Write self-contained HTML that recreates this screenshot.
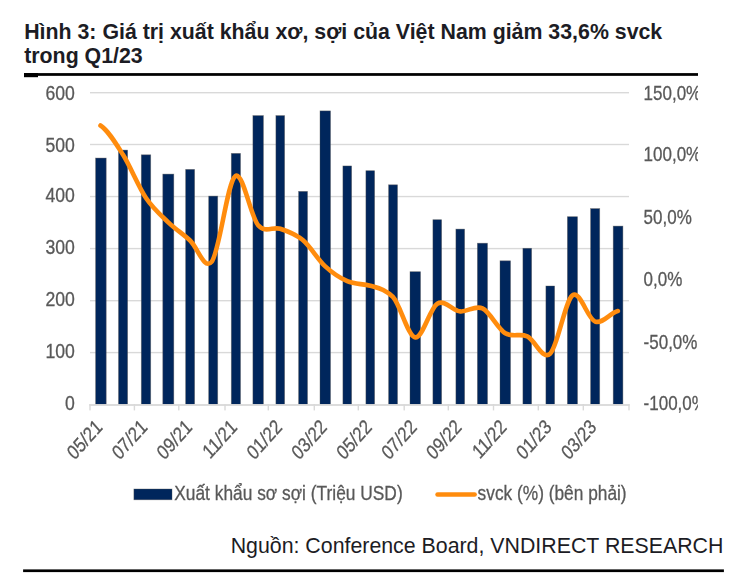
<!DOCTYPE html>
<html><head><meta charset="utf-8"><title>Hình 3</title>
<style>
html,body{margin:0;padding:0;background:#fff;}
body{width:743px;height:573px;overflow:hidden;position:relative;font-family:"Liberation Sans",sans-serif;}
svg{position:absolute;left:0;top:0;}
text{font-family:"Liberation Sans",sans-serif;}
.t{position:absolute;white-space:nowrap;color:#1c1c24;font-size:21.33px;}
</style></head><body>
<div class="t" style="left:24.2px;top:20px;font-weight:bold;line-height:24px;">Hình 3: Giá trị xuất khẩu xơ, sợi của Việt Nam giảm 33,6% svck</div>
<div class="t" style="left:24.2px;top:44px;font-weight:bold;line-height:24px;">trong Q1/23</div>
<div class="t" style="right:19.6px;top:534px;line-height:24px;">Nguồn: Conference Board, VNDIRECT RESEARCH</div>
<svg width="743" height="573" viewBox="0 0 743 573">
<defs><filter id="bl" x="-2%" y="-2%" width="104%" height="104%"><feGaussianBlur stdDeviation="0.55"/></filter><clipPath id="cp"><rect x="24" y="70" width="674" height="450"/></clipPath></defs>
<rect x="24" y="73.1" width="674" height="2.75" fill="#000"/>
<rect x="24" y="73.1" width="14" height="4.1" fill="#000"/>
<rect x="23.1" y="569.4" width="700.8" height="2.7" fill="#000"/>
<g clip-path="url(#cp)"><g filter="url(#bl)">
<rect x="90" y="92.00" width="539" height="1.4" fill="#d9d9d9"/>
<rect x="90" y="143.80" width="539" height="1.4" fill="#d9d9d9"/>
<rect x="90" y="195.85" width="539" height="1.4" fill="#d9d9d9"/>
<rect x="90" y="247.90" width="539" height="1.4" fill="#d9d9d9"/>
<rect x="90" y="300.00" width="539" height="1.4" fill="#d9d9d9"/>
<rect x="90" y="351.90" width="539" height="1.4" fill="#d9d9d9"/>
<rect x="95.60" y="158.05" width="10.60" height="246.25" fill="#00275c" stroke="#555" stroke-opacity="0.55" stroke-width="0.7"/>
<rect x="118.50" y="150.10" width="9.10" height="254.20" fill="#00275c" stroke="#555" stroke-opacity="0.55" stroke-width="0.7"/>
<rect x="141.30" y="154.80" width="9.40" height="249.50" fill="#00275c" stroke="#555" stroke-opacity="0.55" stroke-width="0.7"/>
<rect x="162.80" y="174.10" width="11.00" height="230.20" fill="#00275c" stroke="#555" stroke-opacity="0.55" stroke-width="0.7"/>
<rect x="185.65" y="169.40" width="8.95" height="234.90" fill="#00275c" stroke="#555" stroke-opacity="0.55" stroke-width="0.7"/>
<rect x="208.70" y="196.10" width="9.00" height="208.20" fill="#00275c" stroke="#555" stroke-opacity="0.55" stroke-width="0.7"/>
<rect x="231.30" y="153.40" width="9.20" height="250.90" fill="#00275c" stroke="#555" stroke-opacity="0.55" stroke-width="0.7"/>
<rect x="252.90" y="115.60" width="10.50" height="288.70" fill="#00275c" stroke="#555" stroke-opacity="0.55" stroke-width="0.7"/>
<rect x="275.90" y="115.60" width="8.70" height="288.70" fill="#00275c" stroke="#555" stroke-opacity="0.55" stroke-width="0.7"/>
<rect x="298.60" y="191.40" width="8.90" height="212.90" fill="#00275c" stroke="#555" stroke-opacity="0.55" stroke-width="0.7"/>
<rect x="320.00" y="110.90" width="10.50" height="293.40" fill="#00275c" stroke="#555" stroke-opacity="0.55" stroke-width="0.7"/>
<rect x="342.90" y="165.95" width="8.70" height="238.35" fill="#00275c" stroke="#555" stroke-opacity="0.55" stroke-width="0.7"/>
<rect x="365.90" y="170.70" width="8.70" height="233.60" fill="#00275c" stroke="#555" stroke-opacity="0.55" stroke-width="0.7"/>
<rect x="388.60" y="184.80" width="8.90" height="219.50" fill="#00275c" stroke="#555" stroke-opacity="0.55" stroke-width="0.7"/>
<rect x="410.00" y="271.70" width="10.50" height="132.60" fill="#00275c" stroke="#555" stroke-opacity="0.55" stroke-width="0.7"/>
<rect x="432.90" y="219.70" width="8.70" height="184.60" fill="#00275c" stroke="#555" stroke-opacity="0.55" stroke-width="0.7"/>
<rect x="455.90" y="229.10" width="8.70" height="175.20" fill="#00275c" stroke="#555" stroke-opacity="0.55" stroke-width="0.7"/>
<rect x="477.40" y="243.20" width="10.10" height="161.10" fill="#00275c" stroke="#555" stroke-opacity="0.55" stroke-width="0.7"/>
<rect x="500.00" y="260.80" width="10.50" height="143.50" fill="#00275c" stroke="#555" stroke-opacity="0.55" stroke-width="0.7"/>
<rect x="522.90" y="248.30" width="8.70" height="156.00" fill="#00275c" stroke="#555" stroke-opacity="0.55" stroke-width="0.7"/>
<rect x="545.90" y="286.00" width="8.70" height="118.30" fill="#00275c" stroke="#555" stroke-opacity="0.55" stroke-width="0.7"/>
<rect x="567.40" y="216.70" width="10.10" height="187.60" fill="#00275c" stroke="#555" stroke-opacity="0.55" stroke-width="0.7"/>
<rect x="590.60" y="208.60" width="9.10" height="195.70" fill="#00275c" stroke="#555" stroke-opacity="0.55" stroke-width="0.7"/>
<rect x="613.20" y="226.10" width="9.70" height="178.20" fill="#00275c" stroke="#555" stroke-opacity="0.55" stroke-width="0.7"/>
<rect x="89.4" y="404.1" width="540.2" height="1.8" fill="#d9d9d9"/>
<rect x="89.30" y="404.1" width="1.4" height="6.3" fill="#d9d9d9"/>
<rect x="133.70" y="404.1" width="1.4" height="6.3" fill="#d9d9d9"/>
<rect x="178.10" y="404.1" width="1.4" height="6.3" fill="#d9d9d9"/>
<rect x="224.30" y="404.1" width="1.4" height="6.3" fill="#d9d9d9"/>
<rect x="267.60" y="404.1" width="1.4" height="6.3" fill="#d9d9d9"/>
<rect x="313.60" y="404.1" width="1.4" height="6.3" fill="#d9d9d9"/>
<rect x="357.60" y="404.1" width="1.4" height="6.3" fill="#d9d9d9"/>
<rect x="403.50" y="404.1" width="1.4" height="6.3" fill="#d9d9d9"/>
<rect x="447.60" y="404.1" width="1.4" height="6.3" fill="#d9d9d9"/>
<rect x="492.80" y="404.1" width="1.4" height="6.3" fill="#d9d9d9"/>
<rect x="537.60" y="404.1" width="1.4" height="6.3" fill="#d9d9d9"/>
<rect x="582.60" y="404.1" width="1.4" height="6.3" fill="#d9d9d9"/>
<rect x="628.30" y="404.1" width="1.4" height="6.3" fill="#d9d9d9"/>
<path d="M100.50,125.50 C108.02,130.38 115.53,142.86 123.05,154.80 C130.70,166.95 138.35,186.68 146.00,198.00 C153.43,209.00 160.87,215.16 168.30,222.30 C175.57,229.28 182.83,233.85 190.10,240.50 C197.27,247.06 204.43,270.50 211.60,261.90 C219.50,252.42 227.40,181.50 235.30,176.10 C242.92,170.90 250.53,216.52 258.15,225.20 C265.52,233.59 272.88,226.36 280.25,228.80 C287.85,231.32 295.45,233.88 303.05,240.30 C310.45,246.55 317.85,259.57 325.25,266.40 C332.58,273.17 339.92,277.98 347.25,281.20 C354.92,284.57 362.58,283.52 370.25,285.70 C374.53,286.92 378.82,287.69 383.10,290.00 C386.37,291.76 389.63,293.42 392.90,296.80 C400.37,304.52 407.83,336.47 415.30,337.40 C422.62,338.31 429.93,308.35 437.25,303.80 C444.92,299.03 452.58,310.68 460.25,311.40 C467.65,312.09 475.05,304.94 482.45,308.40 C490.05,311.96 497.65,328.60 505.25,333.20 C512.58,337.64 519.92,333.08 527.25,336.30 C534.92,339.67 542.58,361.00 550.25,353.60 C557.65,346.46 565.05,300.99 572.45,295.40 C580.02,289.69 587.58,318.99 595.15,321.60 C602.73,324.22 610.32,312.77 617.90,311.00" fill="none" stroke="#ff8c0f" stroke-width="4.6" stroke-linecap="round" stroke-linejoin="round"/>
<text x="74.9" y="100.0" font-size="20.0" fill="#595959" text-anchor="end" textLength="29.4" lengthAdjust="spacingAndGlyphs" stroke="#595959" stroke-width="0.3" >600</text>
<text x="74.9" y="151.6" font-size="20.0" fill="#595959" text-anchor="end" textLength="29.4" lengthAdjust="spacingAndGlyphs" stroke="#595959" stroke-width="0.3" >500</text>
<text x="74.9" y="202.1" font-size="20.0" fill="#595959" text-anchor="end" textLength="29.4" lengthAdjust="spacingAndGlyphs" stroke="#595959" stroke-width="0.3" >400</text>
<text x="74.9" y="254.05" font-size="20.0" fill="#595959" text-anchor="end" textLength="29.4" lengthAdjust="spacingAndGlyphs" stroke="#595959" stroke-width="0.3" >300</text>
<text x="74.9" y="305.9" font-size="20.0" fill="#595959" text-anchor="end" textLength="29.4" lengthAdjust="spacingAndGlyphs" stroke="#595959" stroke-width="0.3" >200</text>
<text x="74.9" y="358.0" font-size="20.0" fill="#595959" text-anchor="end" textLength="29.4" lengthAdjust="spacingAndGlyphs" stroke="#595959" stroke-width="0.3" >100</text>
<text x="74.9" y="410.1" font-size="20.0" fill="#595959" text-anchor="end" textLength="9.8" lengthAdjust="spacingAndGlyphs" stroke="#595959" stroke-width="0.3" >0</text>
<text x="643.6" y="99.9" font-size="20.0" fill="#595959" transform="translate(643.6 0) scale(0.85 1) translate(-643.6 0)" stroke="#595959" stroke-width="0.3">150,0%</text>
<text x="643.6" y="161.0" font-size="20.0" fill="#595959" transform="translate(643.6 0) scale(0.85 1) translate(-643.6 0)" stroke="#595959" stroke-width="0.3">100,0%</text>
<text x="643.6" y="224.4" font-size="20.0" fill="#595959" transform="translate(643.6 0) scale(0.85 1) translate(-643.6 0)" stroke="#595959" stroke-width="0.3">50,0%</text>
<text x="643.6" y="285.7" font-size="20.0" fill="#595959" transform="translate(643.6 0) scale(0.85 1) translate(-643.6 0)" stroke="#595959" stroke-width="0.3">0,0%</text>
<text x="643.6" y="348.9" font-size="20.0" fill="#595959" transform="translate(643.6 0) scale(0.85 1) translate(-643.6 0)" stroke="#595959" stroke-width="0.3">-50,0%</text>
<text x="643.6" y="410.2" font-size="20.0" fill="#595959" transform="translate(643.6 0) scale(0.85 1) translate(-643.6 0)" stroke="#595959" stroke-width="0.3">-100,0%</text>
<text font-size="18.35" fill="#595959" stroke="#595959" stroke-width="0.25" text-anchor="end" transform="translate(103.38 428.20) scale(1 1.125) rotate(-45) scale(0.89 1)">05/21</text>
<text font-size="18.35" fill="#595959" stroke="#595959" stroke-width="0.25" text-anchor="end" transform="translate(148.30 428.20) scale(1 1.125) rotate(-45) scale(0.89 1)">07/21</text>
<text font-size="18.35" fill="#595959" stroke="#595959" stroke-width="0.25" text-anchor="end" transform="translate(193.22 428.20) scale(1 1.125) rotate(-45) scale(0.89 1)">09/21</text>
<text font-size="18.35" fill="#595959" stroke="#595959" stroke-width="0.25" text-anchor="end" transform="translate(238.14 428.20) scale(1 1.125) rotate(-45) scale(0.89 1)">11/21</text>
<text font-size="18.35" fill="#595959" stroke="#595959" stroke-width="0.25" text-anchor="end" transform="translate(283.06 428.20) scale(1 1.125) rotate(-45) scale(0.89 1)">01/22</text>
<text font-size="18.35" fill="#595959" stroke="#595959" stroke-width="0.25" text-anchor="end" transform="translate(327.98 428.20) scale(1 1.125) rotate(-45) scale(0.89 1)">03/22</text>
<text font-size="18.35" fill="#595959" stroke="#595959" stroke-width="0.25" text-anchor="end" transform="translate(372.90 428.20) scale(1 1.125) rotate(-45) scale(0.89 1)">05/22</text>
<text font-size="18.35" fill="#595959" stroke="#595959" stroke-width="0.25" text-anchor="end" transform="translate(417.82 428.20) scale(1 1.125) rotate(-45) scale(0.89 1)">07/22</text>
<text font-size="18.35" fill="#595959" stroke="#595959" stroke-width="0.25" text-anchor="end" transform="translate(462.74 428.20) scale(1 1.125) rotate(-45) scale(0.89 1)">09/22</text>
<text font-size="18.35" fill="#595959" stroke="#595959" stroke-width="0.25" text-anchor="end" transform="translate(507.66 428.20) scale(1 1.125) rotate(-45) scale(0.89 1)">11/22</text>
<text font-size="18.35" fill="#595959" stroke="#595959" stroke-width="0.25" text-anchor="end" transform="translate(552.58 428.20) scale(1 1.125) rotate(-45) scale(0.89 1)">01/23</text>
<text font-size="18.35" fill="#595959" stroke="#595959" stroke-width="0.25" text-anchor="end" transform="translate(597.50 428.20) scale(1 1.125) rotate(-45) scale(0.89 1)">03/23</text>
<rect x="133.9" y="489.0" width="38.1" height="10.8" fill="#00275c" stroke="#555" stroke-opacity="0.55" stroke-width="0.7"/>
<text y="499.8" font-size="20.0" fill="#595959" stroke="#595959" stroke-width="0.3" transform="translate(174.2 0) scale(0.868 1)">Xuất khẩu sơ sợi (Triệu USD)</text>
<line x1="437.6" y1="494.5" x2="474.6" y2="494.5" stroke="#ff8c0f" stroke-width="4.6" stroke-linecap="round"/>
<text y="499.8" font-size="20.0" fill="#595959" stroke="#595959" stroke-width="0.3" transform="translate(477.6 0) scale(0.866 1)">svck (%) (bên phải)</text>
</g></g></svg></body></html>
